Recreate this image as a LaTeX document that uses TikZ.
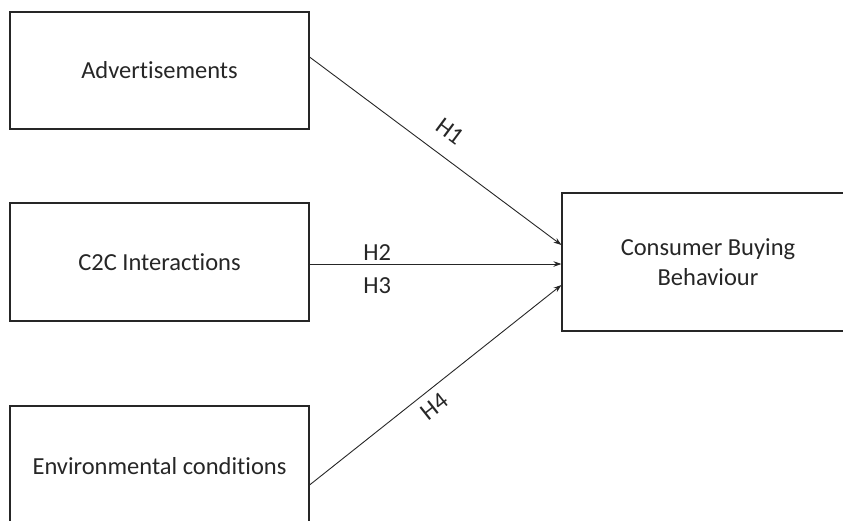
\documentclass[tikz,border=0pt]{standalone}
\usepackage{fontspec}
\setmainfont{Carlito}[Ligatures={NoCommon}]
\usetikzlibrary{arrows.meta}
\definecolor{ink}{HTML}{262626}
\begin{document}
\begin{tikzpicture}[x=1pt,y=-1pt,
  box/.style={draw=ink,line width=1.1pt,rectangle,inner sep=0pt,text=ink,align=center,
    font=\fontsize{24.5}{30}\selectfont},
  link/.style={draw=ink,line width=0.9pt,-{Stealth[length=8pt,width=5.5pt]}},
  lab/.style={text=ink,font=\fontsize{24.5}{28}\selectfont,inner sep=3pt}]
\useasboundingbox (0,0) rectangle (843,520);
\node[box,minimum width=299pt,minimum height=117pt] (adv) at (159.5,70.5) {Advertisements};
\node[box,minimum width=299pt,minimum height=118pt] (c2c) at (159.5,262) {C2C Interactions};
\node[box,minimum width=299pt,minimum height=120pt] (env) at (159.5,466) {Environmental conditions};
\node[box,minimum width=292pt,minimum height=138pt] (cbb) at (708,262) {Consumer Buying\\Behaviour};
\draw[link] ([yshift=13.5pt]adv.east) -- node[lab,pos=0.5,sloped,above=13pt] (h1) {H1} ([yshift=17pt]cbb.west);
\draw[link] ([yshift=-2pt]c2c.east) -- node[lab,pos=0.269,above=0pt] (h2) {H2}
  node[lab,pos=0.269,below=10pt] (h3) {H3} ([yshift=-2pt]cbb.west);
\draw[link] ([yshift=-19pt]env.east) -- node[lab,pos=0.456,sloped,below=5pt] (h4) {H4} ([yshift=-23pt]cbb.west);
\end{tikzpicture}
\end{document}
